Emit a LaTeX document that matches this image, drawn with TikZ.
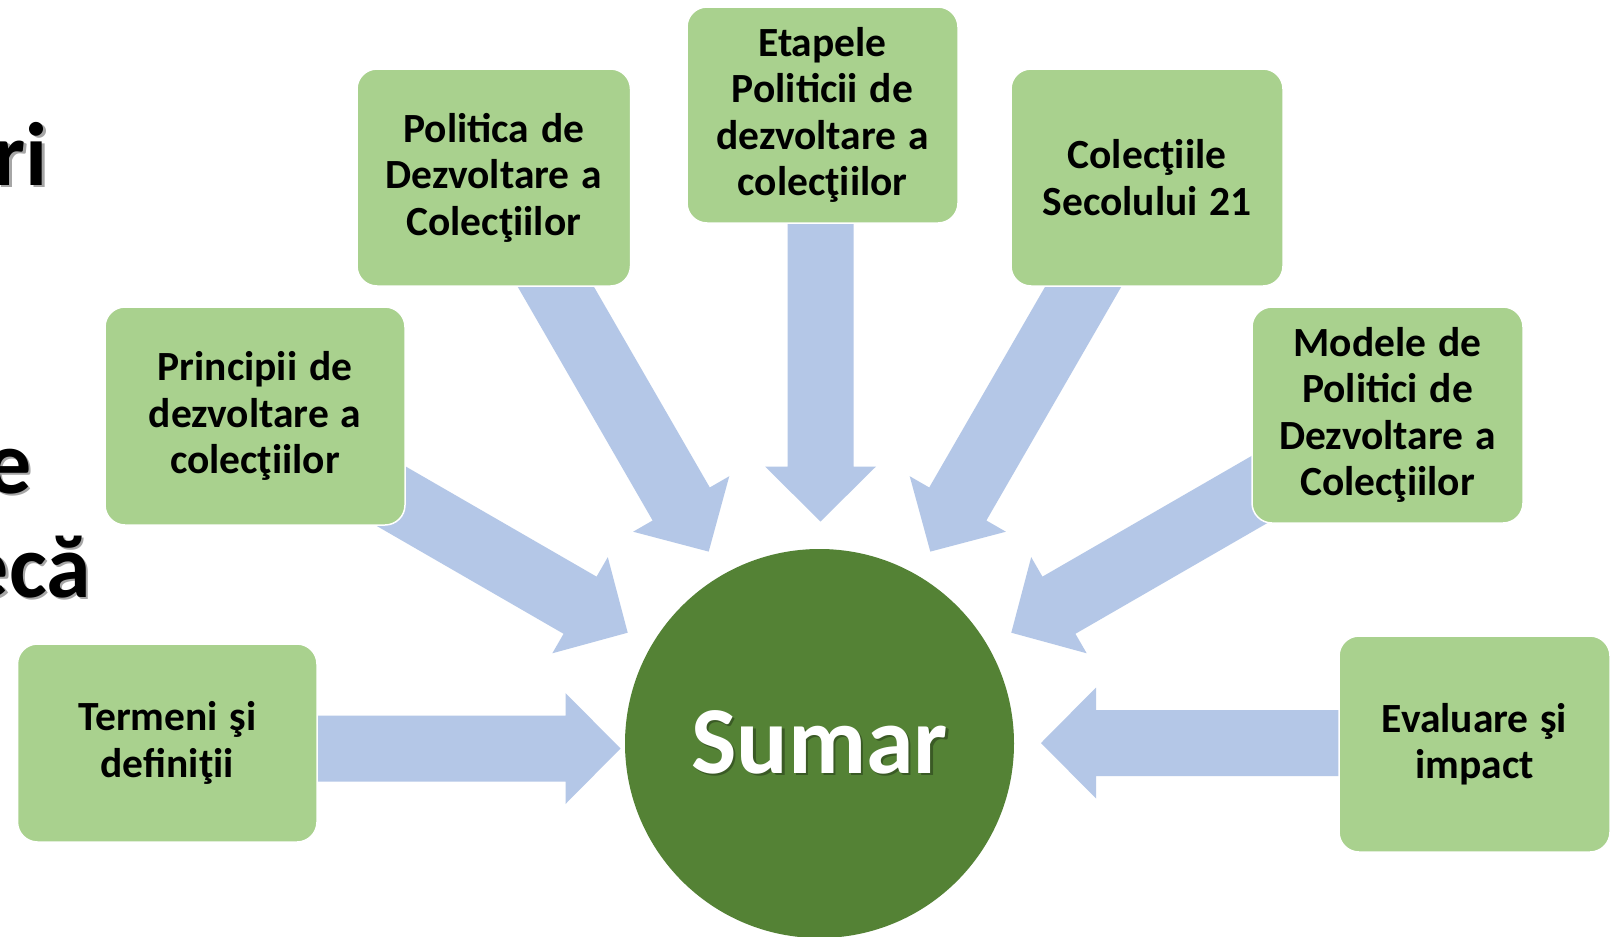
\documentclass[tikz,border=0pt]{standalone}
\usepackage{fontspec}
\setmainfont{Carlito}[WordSpace=1.25]
\usetikzlibrary{calc}
\definecolor{boxfill}{HTML}{A9D18E}
\definecolor{arrfill}{HTML}{B4C7E7}
\definecolor{circfill}{HTML}{548235}
\definecolor{shadowc}{HTML}{A6A6A6}
\definecolor{darkshadow}{HTML}{3A5A25}
\tikzset{
  topic/.style={draw=white, line width=1.5pt, fill=boxfill, rounded corners=20pt,
    inner sep=0pt, align=center, text=black,
    font=\bfseries\fontsize{41.5}{46.5}\selectfont},
  arrowfill/.style={fill=arrfill},
  bigtext/.style={inner sep=0pt, font=\bfseries\fontsize{90}{100}\selectfont, text=black},
}
\newcommand\blockarrow[2]{%
  \coordinate (hb) at ($(#2)!55pt!(#1)$);
  \fill[arrowfill] ($(#1)!33pt!90:(#2)$) -- ($(hb)!33pt!90:(#2)$)
    -- ($(hb)!55.5pt!90:(#2)$) -- (#2) -- ($(hb)!55.5pt!-90:(#2)$)
    -- ($(hb)!33pt!-90:(#2)$) -- ($(#1)!33pt!-90:(#2)$) -- cycle;}
\newcommand\shadowed[3]{\rlap{\kern#3\raisebox{-#3}{\textcolor{#2}{#1}}}#1}
\begin{document}
\begin{tikzpicture}[x=1pt,y=-1pt]
\useasboundingbox (0,0) rectangle (1618,937);
\clip (0,0) rectangle (1618,937);
\fill[white] (0,0) rectangle (1618,937);

% left partial title text
\node[bigtext, anchor=base east] (t1) at (48,185) {\shadowed{ri}{shadowc}{2.5pt}};
\node[bigtext, anchor=base east] (t2) at (32,493) {\shadowed{e}{shadowc}{2.5pt}};
\node[bigtext, anchor=base east] (t3) at (91,597) {\shadowed{ecă}{shadowc}{2.5pt}};

% arrow coordinates
\coordinate (sA) at (300,748.5);   \coordinate (tA) at (620.5,748.5);
\coordinate (sB) at (334.5,463.5); \coordinate (tB) at (627.7,632.7);
\coordinate (sC) at (539.5,258.5); \coordinate (tC) at (708.7,551.6);
\coordinate (sD) at (820.5,200);   \coordinate (tD) at (820.5,521.5);
\coordinate (sE) at (1099.5,258.5);\coordinate (tE) at (930.3,551.6);
\coordinate (sF) at (1304.5,463.5);\coordinate (tF) at (1011.3,632.7);
\coordinate (sG) at (1360,743);    \coordinate (tG) at (1041,743);

\blockarrow{sA}{tA}
\blockarrow{sB}{tB}
\blockarrow{sC}{tC}
\blockarrow{sD}{tD}
\blockarrow{sE}{tE}
\blockarrow{sF}{tF}
\blockarrow{sG}{tG}

% topic boxes
\node[topic, minimum width=299.5pt, minimum height=198pt] (termeni) at (167.25,743) {Termeni şi\\definiţii};
\node[topic, minimum width=300pt, minimum height=218pt] (principii) at (255,416) {Principii de\\dezvoltare a\\colecţiilor};
\node[topic, minimum width=273.5pt, minimum height=217pt] (politica) at (493.75,177.5) {Politica de\\Dezvoltare a\\Colecţiilor};
\node[topic, minimum width=271pt, minimum height=216pt] (etapele) at (822.5,115) {Etapele\\Politicii de\\dezvoltare a\\colecţiilor};
\node[topic, minimum width=272pt, minimum height=217pt] (colectiile) at (1147,177.5) {Colecţiile\\Secolului 21};
\node[topic, minimum width=271pt, minimum height=216pt] (modele) at (1387.5,415) {Modele de\\Politici de\\Dezvoltare a\\Colecţiilor};
\node[topic, minimum width=271pt, minimum height=216pt] (evaluare) at (1474.5,744) {Evaluare şi\\impact};

% central circle
\node[circle, fill=circfill, minimum size=389pt, inner sep=0pt, text=white,
      font=\bfseries\fontsize{96}{100}\selectfont] (sumar) at (819.5,743.5)
      {\raisebox{3pt}{\shadowed{Sumar}{darkshadow}{2.5pt}}};
\end{tikzpicture}
\end{document}
